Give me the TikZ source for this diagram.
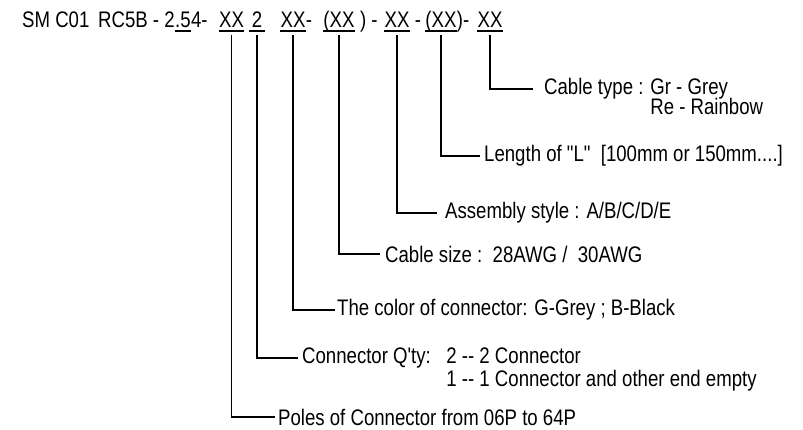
\documentclass[tikz,border=0pt]{standalone}
\usepackage{fontspec}
\setmainfont{Liberation Sans}[FakeStretch=0.827, Ligatures=TeXOff]
\begin{document}
\begin{tikzpicture}[x=1pt,y=-1pt,
  every node/.style={font=\fontsize{22.5}{25}\selectfont, inner sep=0pt},
  code/.style={anchor=base west},
  ucode/.style={anchor=base},
  lbl/.style={anchor=west},
  val/.style={anchor=base west},
  lead/.style={line width=1.2pt},
  uline/.style={line width=1.1pt}]
\useasboundingbox (0,0) rectangle (803,430);
% ---------- top code line ----------
\node[code] (t1) at (22,28) {SM C01};
\node[code] (t2) at (98,28) {RC5B - 2};
\node[code] (t2u) at (t2.base east) {.5};
\node[code] (t2e) at (t2u.base east) {4-};
\node[ucode] (u1) at (231.5,28) {XX};
\node[ucode] (u2) at (257,28) {2};
\node[ucode] (u3) at (293,28) {XX};
\node[code] (u3e) at (u3.base east) {-};
\node[ucode] (u4) at (339,28) {(XX};
\node[code] (u4e) at (u4.base east) {\ ) -};
\node[ucode] (u5) at (397,28) {XX};
\node[code] (u5e) at (u5.base east) {\ -};
\node[ucode] (u6) at (441,28) {(XX};
\node[code] (u6e) at (u6.base east) {)-};
\node[ucode] (u7) at (490,28) {XX};
% underlines
\foreach \n in {t2u,u1,u3,u4,u5,u6,u7}{
  \draw[uline] ([yshift=-3pt]\n.base west) -- ([yshift=-3pt]\n.base east);
}
\draw[uline] ([xshift=-3pt,yshift=-3pt]u2.base west) -- ([xshift=3pt,yshift=-3pt]u2.base east);
% leader start points below the underlines
\foreach \n/\k in {u1/1,u2/2,u3/3,u4/4,u5/5,u6/6,u7/7}{
  \coordinate (p\k) at ([yshift=-7pt]\n.base);
}
% ---------- labels ----------
\node[lbl, inner xsep=11pt] (l7) at (533,89) {Cable type : Gr - Grey};
\node[val] (l7b) at ([xshift=11pt,yshift=-20pt]l7.base west) {\phantom{Cable type : }Re - Rainbow};
\node[lbl, inner xsep=4pt] (l6) at (480,156) {Length of "L"\ \ [100mm or 150mm....]};
\node[lbl, inner xsep=8pt] (l5) at (437,213) {Assembly style : A/B/C/D/E};
\node[lbl, inner xsep=5pt] (l4) at (380,254) {Cable size :\ \ 28AWG /\ \ 30AWG};
\node[lbl, inner xsep=2pt] (l3) at (335,310) {The color of connector: G-Grey ; B-Black};
\node[lbl, inner xsep=4pt] (l2) at (298,358) {Connector Q'ty:\ \ \ 2 -- 2 Connector};
\node[val] (l2b) at ([xshift=4pt,yshift=-23pt]l2.base west) {\phantom{Connector Q'ty:\ \ \ }1 -- 1 Connector and other end empty};
\node[lbl, inner xsep=3pt] (l1) at (275,417) {Poles of Connector from 06P to 64P};
% ---------- leaders ----------
\draw[lead] (p7) |- (l7.west);
\draw[lead] (p6) |- (l6.west);
\draw[lead] (p5) |- (l5.west);
\draw[lead] (p4) |- (l4.west);
\draw[lead] (p3) |- (l3.west);
\draw[lead] (p2) |- (l2.west);
\draw[lead] (p1) |- (l1.west);
\end{tikzpicture}
\end{document}
